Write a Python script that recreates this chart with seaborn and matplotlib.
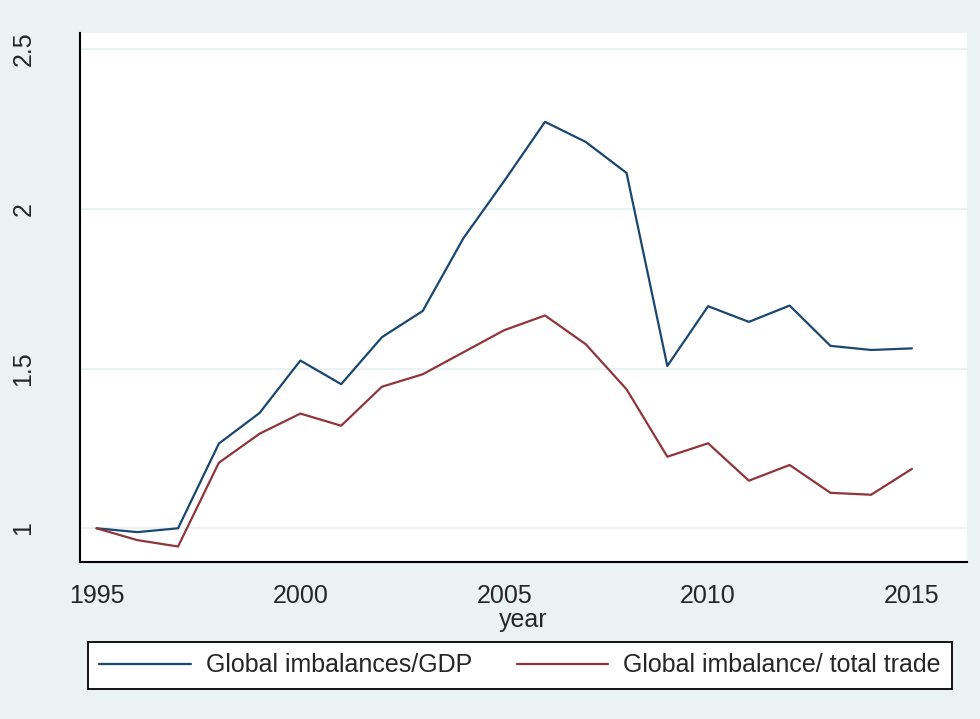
import pandas as pd
import matplotlib.pyplot as plt
import seaborn as sns

# data
years = list(range(1995, 2016))
gdp_ratio = [1.000, 0.988, 1.000, 1.265, 1.361, 1.525, 1.451, 1.598, 1.680, 1.908,
             2.087, 2.272, 2.209, 2.112, 1.508, 1.695, 1.646, 1.697, 1.571, 1.558, 1.563]
trade_ratio = [1.000, 0.963, 0.943, 1.205, 1.296, 1.359, 1.321, 1.443, 1.482, 1.551,
               1.620, 1.666, 1.576, 1.435, 1.224, 1.266, 1.149, 1.198, 1.111, 1.105, 1.186]
series_names = ['Global imbalances/GDP', 'Global imbalance/ total trade']
x_ticks = [1995, 2000, 2005, 2010, 2015]
y_ticks = [1, 1.5, 2, 2.5]

df = pd.DataFrame({'year': years * 2,
                   'value': gdp_ratio + trade_ratio,
                   'series': [series_names[0]] * len(years) + [series_names[1]] * len(years)})

sns.set_style('white')
plt.rcParams['font.family'] = ['Liberation Sans', 'DejaVu Sans']

bg = '#EAF2F3'
fs = 18
fig = plt.figure(figsize=(9.8, 7.19), dpi=100, facecolor=bg)
ax = fig.add_axes([80 / 980, 1 - 562 / 719, 887 / 980, 529 / 719])
ax.set_facecolor('white')

sns.lineplot(data=df, x='year', y='value', hue='series',
             palette=['#1A476F', '#90353B'], linewidth=1.6, ax=ax, legend=False)

ax.set_xlim(1994.595, 2016.35)
ax.set_ylim(0.8945, 2.55)
ax.set_xticks(x_ticks)
ax.set_yticks(y_ticks)
ax.set_yticklabels(['1', '1.5', '2', '2.5'], rotation=90, va='center')
ax.tick_params(axis='both', direction='out', length=8, width=1.5, color='black',
               labelsize=fs)
ax.tick_params(axis='x', pad=8)
ax.tick_params(axis='y', pad=24)
ax.grid(axis='y', color=bg, linewidth=1.5)
ax.grid(axis='x', visible=False)

for s in ['top', 'right']:
    ax.spines[s].set_visible(False)
for s in ['left', 'bottom']:
    ax.spines[s].set_color('black')
    ax.spines[s].set_linewidth(1.5)

ax.set_xlabel('year', fontsize=fs, labelpad=0)
ax.set_ylabel('')

handles = [plt.Line2D([], [], color='#1A476F', linewidth=1.6),
           plt.Line2D([], [], color='#90353B', linewidth=1.6)]
leg = fig.legend(handles, series_names, ncol=2, fontsize=fs,
                 bbox_to_anchor=(88 / 980, 1 - 642 / 719),
                 loc='upper left', frameon=True, fancybox=False,
                 edgecolor='black', facecolor='white', framealpha=1,
                 handlelength=3.65, handletextpad=0.6, columnspacing=1.8,
                 borderaxespad=0, borderpad=0.45)
leg.get_frame().set_linewidth(1.3)

fig.savefig('out.png', dpi=100, facecolor=bg)
